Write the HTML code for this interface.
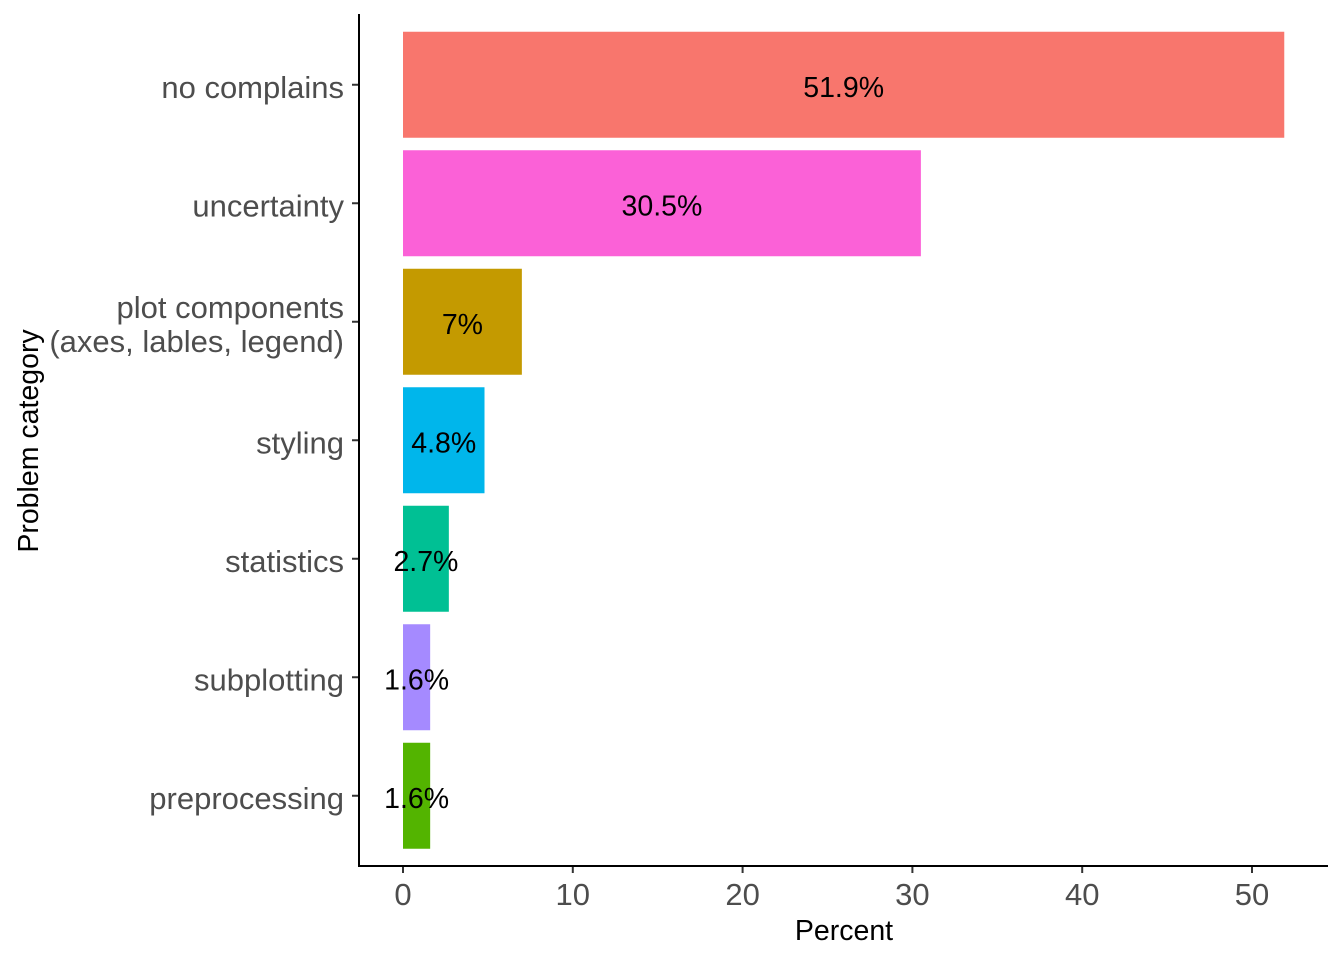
<!DOCTYPE html>
<html><head><meta charset="utf-8"><style>body{margin:0;background:#fff}svg{display:block;font-family:"Liberation Sans",Arial,sans-serif}</style></head>
<body>
<svg id="chart" width="1344" height="960"></svg>
<script>
const categories = ["no complains","uncertainty","plot components\n(axes, lables, legend)","styling","statistics","subplotting","preprocessing"];
const values = [51.9,30.5,7,4.8,2.7,1.6,1.6];
const valueLabels = ["51.9%","30.5%","7%","4.8%","2.7%","1.6%","1.6%"];
const colors = ["#F8766D","#FB61D7","#C49A00","#00B6EB","#00C094","#A58AFF","#53B400"];
const xTicks = [0,10,20,30,40,50];
const NS="http://www.w3.org/2000/svg";
const svg=document.getElementById('chart');
const x0=403, k=(1252-403)/50;
const xs=v=>x0+v*k;
const yTop=26, step=118.5;
const yc=i=>yTop+step*(i+0.5)-0.5;
const bh=106;
function mk(t,a,p){const e=document.createElementNS(NS,t);for(const q in a)e.setAttribute(q,a[q]);(p||svg).appendChild(e);return e;}
categories.forEach((c,i)=>{
  const r=mk('rect',{x:xs(0),y:yc(i)-bh/2,width:xs(values[i])-xs(0),height:bh,fill:colors[i]});
  
  
  const t=mk('text',{x:xs(values[i]/2),y:yc(i)+12,'text-anchor':'middle','font-size':28.5,fill:'#000'});
  t.textContent=valueLabels[i];
  
  
  mk('line',{x1:352,x2:359,y1:yc(i),y2:yc(i),stroke:'#333','stroke-width':2});
  const lines=c.split('\n');
  const tl=mk('text',{x:344,'text-anchor':'end','font-size':31,fill:'#4D4D4D'});
  
  
  lines.forEach((l,j)=>{const ts=mk('tspan',{x:344,y:yc(i)+13+(j-(lines.length-1)/2)*34},tl);ts.textContent=l;});
});
xTicks.forEach(v=>{
  mk('line',{x1:xs(v),x2:xs(v),y1:866,y2:873,stroke:'#333','stroke-width':2});
  const t=mk('text',{x:xs(v),y:905,'text-anchor':'middle','font-size':31,fill:'#4D4D4D'});
  t.textContent=v;
  
  
});
const ax=mk('path',{d:'M359 14V866H1328',fill:'none',stroke:'#000','stroke-width':2});


const xt=mk('text',{x:844,y:940,'text-anchor':'middle','font-size':28.5,fill:'#000'});
xt.textContent='Percent';


const yt=mk('text',{x:0,y:0,'text-anchor':'middle','font-size':28.5,fill:'#000',transform:'translate(38,441) rotate(-90)'});
yt.textContent='Problem category';


</script>
</body></html>
